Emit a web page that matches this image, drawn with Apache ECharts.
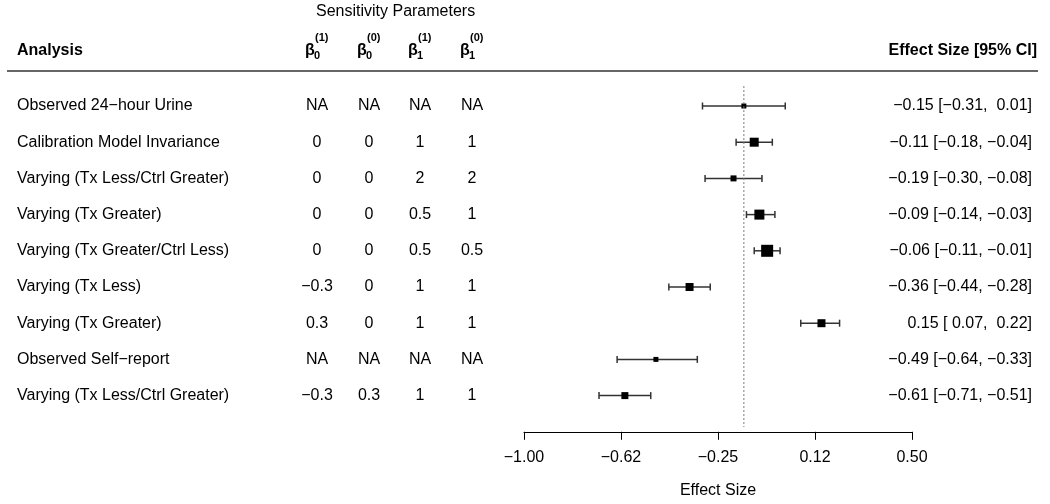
<!DOCTYPE html>
<html>
<head>
<meta charset="utf-8">
<script src="https://cdn.jsdelivr.net/npm/echarts@6/dist/echarts.min.js"></script>
<style>
html,body{margin:0;padding:0;background:#fff;}
#chart{width:1050px;height:504px;}
</style>
</head>
<body>
<div id="chart"></div>
<script>
// ---- data ----
const analyses = [
  'Observed 24\u2212hour Urine',
  'Calibration Model Invariance',
  'Varying (Tx Less/Ctrl Greater)',
  'Varying (Tx Greater)',
  'Varying (Tx Greater/Ctrl Less)',
  'Varying (Tx Less)',
  'Varying (Tx Greater)',
  'Observed Self\u2212report',
  'Varying (Tx Less/Ctrl Greater)'
];
const b0_1 = ['NA', '0', '0', '0', '0', '\u22120.3', '0.3', 'NA', '\u22120.3'];
const b0_0 = ['NA', '0', '0', '0', '0', '0', '0', 'NA', '0.3'];
const b1_1 = ['NA', '1', '2', '0.5', '0.5', '1', '1', 'NA', '1'];
const b1_0 = ['NA', '1', '2', '1', '0.5', '1', '1', 'NA', '1'];
const estimate = [-0.15, -0.11, -0.19, -0.09, -0.06, -0.36, 0.15, -0.49, -0.61];
const ciLower  = [-0.31, -0.18, -0.30, -0.14, -0.11, -0.44, 0.07, -0.64, -0.71];
const ciUpper  = [ 0.01, -0.04, -0.08, -0.03, -0.01, -0.28, 0.22, -0.33, -0.51];
const referenceValue = -0.15;
const xTickLabels = ['\u22121.00', '\u22120.62', '\u22120.25', '0.12', '0.50'];

// ---- layout / style ----
const FONT = '"Liberation Sans", Arial, Helvetica, sans-serif';
const FS = 16;
const TXT = '#000';
const markerSize = [5, 9, 6, 10, 12, 8, 8, 5, 7];
const gridTop = 69.8, gridHeight = 362;
const colLabelX = 17, colParamX = [317, 369, 420, 472], colCIX = 1032;
const refLineRows = [0.45, 9.87];

function fmt(v) {
  const s = Math.abs(v).toFixed(2);
  return (v < 0 ? '\u2212' : ' ') + s;
}
const ciText = estimate.map((e, i) =>
  fmt(e) + ' [' + fmt(ciLower[i]) + ', ' + (ciUpper[i] < 0 ? '' : ' ') + fmt(ciUpper[i]).trim() + ']');

function textSeries(values, x, align) {
  return {
    type: 'scatter', xAxisIndex: 1, yAxisIndex: 1, symbolSize: 0, silent: true,
    itemStyle: { opacity: 1 },
    data: values.map((v, i) => ({ value: [x, i + 1], txt: v })),
    label: {
      show: true, position: 'inside', align: align, verticalAlign: 'middle',
      fontFamily: FONT, fontSize: FS, color: TXT, textBorderWidth: 0, opacity: 1,
      formatter: p => p.data.txt
    }
  };
}

const chart = echarts.init(document.getElementById('chart'), null, { renderer: 'canvas' });

function betaHeader(cx, sub, sup) {
  return {
    type: 'group', children: [
      { type: 'text', left: cx - 12, top: 43, style: { text: '\u03b2', font: 'bold ' + FS + 'px ' + FONT, fill: TXT } },
      { type: 'text', left: cx - 2, top: 32, style: { text: sup, font: 'bold 11px ' + FONT, fill: TXT } },
      { type: 'text', left: cx - 3, top: 50, style: { text: sub, font: 'bold 11px ' + FONT, fill: TXT } }
    ]
  };
}

const option = {
  animation: false,
  backgroundColor: '#fff',
  grid: [
    { left: 524, width: 388, top: gridTop, height: gridHeight },
    { left: 0, right: 0, top: gridTop, height: gridHeight }
  ],
  xAxis: [
    {
      gridIndex: 0, type: 'value', min: -1, max: 0.5, interval: 0.375, position: 'bottom',
      axisLine: { show: true, onZero: false, lineStyle: { color: '#000', width: 1 } },
      axisTick: { show: true, length: 8, inside: false, lineStyle: { color: '#000', width: 1 } },
      splitLine: { show: false },
      axisLabel: {
        margin: 18, fontFamily: FONT, fontSize: FS, color: TXT,
        formatter: (v) => {
          const idx = Math.round((v + 1) / 0.375);
          return xTickLabels[idx] !== undefined ? xTickLabels[idx] : '';
        }
      },
      name: 'Effect Size', nameLocation: 'middle', nameGap: 51,
      nameTextStyle: { fontFamily: FONT, fontSize: FS, color: TXT }
    },
    { gridIndex: 1, type: 'value', min: 0, max: 1050, show: false }
  ],
  yAxis: [
    { gridIndex: 0, type: 'value', min: 0, max: 10, inverse: true, show: false },
    { gridIndex: 1, type: 'value', min: 0, max: 10, inverse: true, show: false }
  ],
  graphic: [
    { type: 'text', left: 316, top: 4, style: { text: 'Sensitivity Parameters', font: FS + 'px ' + FONT, fill: TXT } },
    { type: 'text', left: 17, top: 43, style: { text: 'Analysis', font: 'bold ' + FS + 'px ' + FONT, fill: TXT } },
    { type: 'text', right: 13, top: 43, style: { text: 'Effect Size [95% CI]', font: 'bold ' + FS + 'px ' + FONT, fill: TXT } },
    betaHeader(colParamX[0], '0', '(1)'),
    betaHeader(colParamX[1], '0', '(0)'),
    betaHeader(colParamX[2], '1', '(1)'),
    betaHeader(colParamX[3], '1', '(0)'),
    { type: 'line', shape: { x1: 7, y1: 71, x2: 1038, y2: 71 }, style: { stroke: '#666', lineWidth: 2 } }
  ],
  series: [
    {
      type: 'line', xAxisIndex: 0, yAxisIndex: 0, silent: true, symbol: 'none',
      data: [[referenceValue, refLineRows[0]], [referenceValue, refLineRows[1]]],
      lineStyle: { color: '#777', width: 1, type: [2, 2] }
    },
    {
      type: 'custom', xAxisIndex: 0, yAxisIndex: 0, silent: true,
      data: estimate.map((e, i) => [ciLower[i], ciUpper[i], i + 1]),
      renderItem: (params, api) => {
        const p1 = api.coord([api.value(0), api.value(2)]);
        const p2 = api.coord([api.value(1), api.value(2)]);
        const h = 3.5;
        const st = { stroke: '#333', lineWidth: 1.5 };
        return {
          type: 'group', children: [
            { type: 'line', shape: { x1: p1[0], y1: p1[1], x2: p2[0], y2: p2[1] }, style: st },
            { type: 'line', shape: { x1: p1[0], y1: p1[1] - h, x2: p1[0], y2: p1[1] + h }, style: st },
            { type: 'line', shape: { x1: p2[0], y1: p2[1] - h, x2: p2[0], y2: p2[1] + h }, style: st }
          ]
        };
      }
    },
    {
      type: 'scatter', xAxisIndex: 0, yAxisIndex: 0, silent: true, symbol: 'rect',
      data: estimate.map((e, i) => ({ value: [e, i + 1], symbolSize: markerSize[i] })),
      itemStyle: { color: '#000', opacity: 1 }
    },
    textSeries(analyses, colLabelX, 'left'),
    textSeries(b0_1, colParamX[0], 'center'),
    textSeries(b0_0, colParamX[1], 'center'),
    textSeries(b1_1, colParamX[2], 'center'),
    textSeries(b1_0, colParamX[3], 'center'),
    textSeries(ciText, colCIX, 'right')
  ]
};
chart.setOption(option);
</script>
</body>
</html>
